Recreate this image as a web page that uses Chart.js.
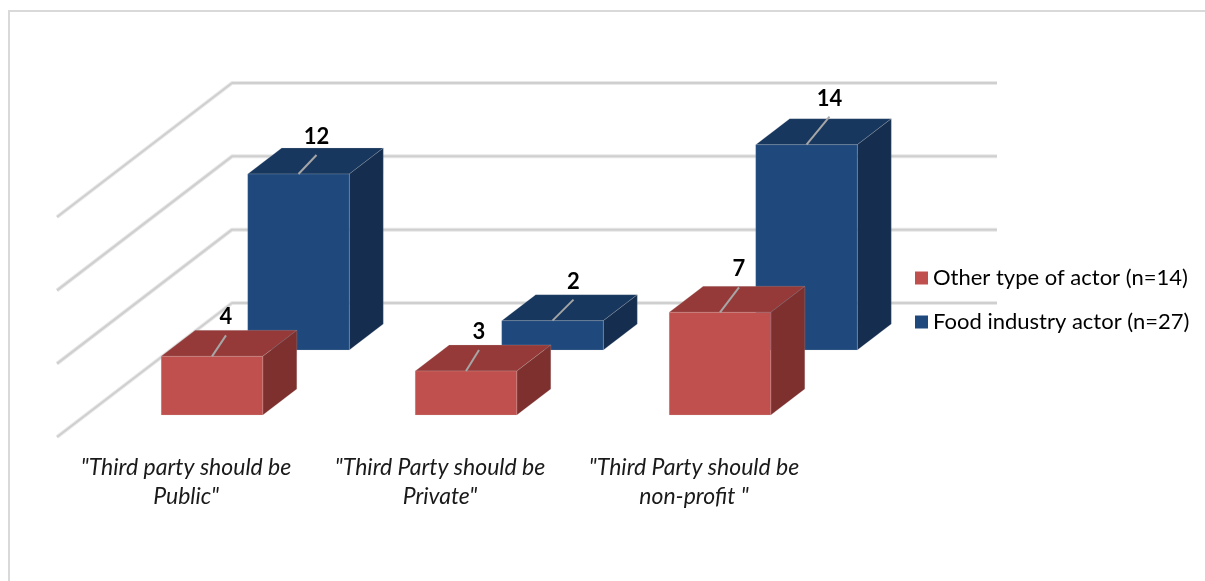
<!DOCTYPE html>
<html>
<head>
<meta charset="utf-8">
<title>Third party preference by actor type</title>
<script src="https://cdn.jsdelivr.net/npm/chart.js@4"></script>
<style>
  html, body { margin: 0; height: 100%; background: #fff; overflow: hidden; }
  #frame { position: absolute; left: 8px; top: 10px; width: 1300px; height: 700px; border: 2px solid #d9d9d9; }
  #wrap { position: absolute; left: 0; top: 0; width: 1205px; height: 581px; }
</style>
</head>
<body>
<div id="frame"></div>
<div id="wrap"><canvas id="chart"></canvas></div>
<script>
const categories = [
  ['"Third party should be', 'Public"'],
  ['"Third Party should be', 'Private"'],
  ['"Third Party should be', 'non-profit "'],
];
const otherActor = [4, 3, 7];
const foodActor = [12, 2, 14];
const otherLabel = "Other type of actor (n=14)";
const foodLabel = "Food industry actor (n=27)";

// Fake 3D projection, in pixels
const WALL = { dx: 175, dy: 134, overhang: 3 };
const BOX = { dx: 34, dy: 26 };
const faces = [
  // first dataset sits near the front, second one further back
  { dx: 28, dy: 22, front: "#c0504d", top: "#953a38", side: "#7e302e", tagX: [14, 13, 19], tagY: [21, 21, 25] },
  { dx: 114.5, dy: 87, front: "#1f497d", top: "#17375e", side: "#152e50", tagX: [18, 21, 23], tagY: [19, 21, 28] },
];

function poly(ctx, pts, fill) {
  ctx.beginPath();
  pts.forEach((p, i) => (i ? ctx.lineTo(p[0], p[1]) : ctx.moveTo(p[0], p[1])));
  ctx.closePath();
  ctx.fillStyle = fill;
  ctx.fill();
  ctx.strokeStyle = "rgba(200, 200, 200, 0.2)";
  ctx.lineWidth = 1;
  ctx.stroke();
}

const boxes3d = {
  id: "boxes3d",
  afterLayout(chart) {
    // park the legend beside the wall instead of its default slot
    chart.legend.left = 899;
    chart.legend.top = 245;
  },
  beforeDatasetsDraw(chart) {
    const { ctx, chartArea, scales } = chart;

    // wall and side gridlines
    ctx.save();
    ctx.lineJoin = "round";
    scales.y.ticks.forEach((t) => {
      const y = scales.y.getPixelForValue(t.value);
      [["#e8e8e8", 4], ["#cfcfcf", 2]].forEach(([color, w]) => {
        ctx.beginPath();
        ctx.moveTo(chartArea.left, y);
        ctx.lineTo(chartArea.left + WALL.dx, y - WALL.dy);
        ctx.lineTo(chartArea.right + WALL.dx + WALL.overhang, y - WALL.dy);
        ctx.strokeStyle = color;
        ctx.lineWidth = w;
        ctx.stroke();
      });
    });

    // back series first so the front one overlaps it
    for (let d = chart.data.datasets.length - 1; d >= 0; d--) {
      const f = faces[d];
      chart.getDatasetMeta(d).data.forEach((bar) => {
        const l = bar.x - bar.width / 2 + f.dx;
        const r = bar.x + bar.width / 2 + f.dx;
        const t = bar.y - f.dy;
        const b = bar.base - f.dy;
        poly(ctx, [[l, t], [r, t], [r + BOX.dx, t - BOX.dy], [l + BOX.dx, t - BOX.dy]], f.top);
        poly(ctx, [[r, t], [r + BOX.dx, t - BOX.dy], [r + BOX.dx, b - BOX.dy], [r, b]], f.side);
        poly(ctx, [[l, t], [r, t], [r, b], [l, b]], f.front);
      });
    }

    // value labels with their little leader lines
    chart.data.datasets.forEach((ds, d) => {
      const f = faces[d];
      chart.getDatasetMeta(d).data.forEach((bar, i) => {
        const cx = bar.x + f.dx;
        const cy = bar.y - f.dy;
        ctx.beginPath();
        ctx.moveTo(cx, cy);
        ctx.lineTo(cx + f.tagX[i], cy - f.tagY[i]);
        ctx.strokeStyle = "#a6a6a6";
        ctx.lineWidth = 2;
        ctx.stroke();
        ctx.fillStyle = "#000";
        ctx.font = "bold 22px Lato";
        ctx.textAlign = "center";
        ctx.textBaseline = "middle";
        ctx.fillText(ds.data[i], cx + f.tagX[i], cy - f.tagY[i] - 18);
      });
    });
    ctx.restore();
    return false;
  },
};

new Chart(document.getElementById("chart"), {
  type: "bar",
  data: {
    labels: categories,
    datasets: [
      { label: otherLabel, data: otherActor, backgroundColor: "#c0504d" },
      { label: foodLabel, data: foodActor, backgroundColor: "#1f497d" },
    ],
  },
  plugins: [boxes3d],
  options: {
    responsive: true,
    maintainAspectRatio: false,
    animation: false,
    events: [],
    layout: { padding: { left: 57, top: 217 } },
    datasets: { bar: { grouped: false, categoryPercentage: 0.4, barPercentage: 1 } },
    plugins: {
      tooltip: { enabled: false },
      legend: {
        position: "right",
        align: "start",
        maxWidth: 300,
        labels: {
          color: "#1a1a1a",
          font: { family: "Lato", size: 22 },
          padding: 22,
          boxWidth: 1,
          boxHeight: 1,
          // thick outline on a tiny box: keeps the text close to the swatch
          generateLabels: (chart) =>
            chart.data.datasets.map((ds, i) => ({
              text: ds.label,
              fillStyle: ds.backgroundColor,
              strokeStyle: ds.backgroundColor,
              lineWidth: 12,
              datasetIndex: i,
            })),
        },
      },
    },
    scales: {
      x: {
        grid: { display: false },
        border: { display: false },
        afterFit(scale) { scale.height = 144; },
        ticks: {
          color: "#1a1a1a",
          maxRotation: 0,
          autoSkip: false,
          padding: 8,
          labelOffset: 2,
          font: { family: "Lato", size: 23, style: "italic", lineHeight: 1.26 },
        },
      },
      y: {
        position: "right",
        min: 0,
        max: 15,
        grid: { display: false },
        border: { display: false },
        ticks: { stepSize: 5, display: false },
        afterFit(scale) { scale.width = 86; },
      },
    },
  },
});
</script>
</body>
</html>
